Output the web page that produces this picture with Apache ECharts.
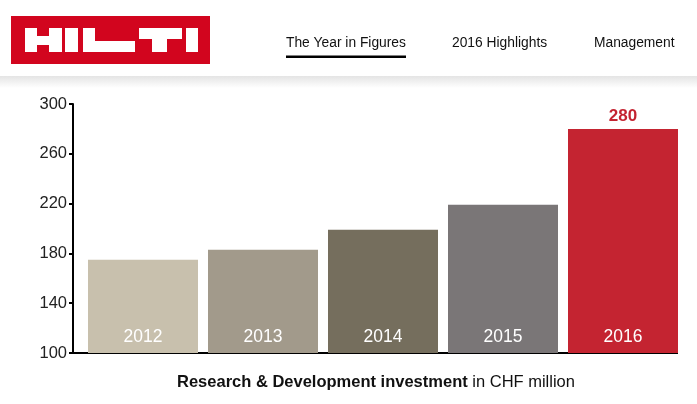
<!DOCTYPE html>
<html>
<head>
<meta charset="utf-8">
<script src="https://cdn.jsdelivr.net/npm/echarts@6/dist/echarts.min.js"></script>
<style>
  html, body { margin: 0; padding: 0; background: #fff; }
  #chart { width: 697px; height: 404px; }
</style>
</head>
<body>
<div id="chart"></div>
<script>
// 数据
const years = ['2012', '2013', '2014', '2015', '2016'];
const rdValues = [175, 183, 199, 219, 280];
const barColors = ['#c8c0ad', '#a29a8b', '#756e5d', '#7a7677', '#c42431'];
const yTicks = [100, 140, 180, 220, 260, 300];
const navItems = ['The Year in Figures', '2016 Highlights', 'Management'];

const FONT = '"Liberation Sans", Arial, Helvetica, sans-serif';
const HILTI_RED = '#d2051e';

const chart = echarts.init(document.getElementById('chart'), null, { renderer: 'canvas' });

// 柱子数据: 每根柱子自己的颜色
const barData = rdValues.map((v, i) => ({
  value: v,
  itemStyle: { color: barColors[i] }
}));

// 数值标签: 只有最后一年显示
const valueLabelData = rdValues.map((v, i) => ({
  value: v,
  label: { show: i === rdValues.length - 1 }
}));

// 页眉: logo 方块
const logoBlocks = [
  // H
  [25, 28, 12, 24], [49, 28, 13, 24], [37, 36, 12, 9],
  // I
  [65, 28, 13, 24],
  // L
  [83, 28, 12, 24], [95, 41, 40, 11],
  // T
  [139, 28, 43, 11], [152, 39, 15, 13],
  // I
  [186, 28, 12, 24]
];

const navX = [286, 452, 594];

const graphics = [
  {
    type: 'rect', left: 0, top: 76, silent: true,
    shape: { width: 697, height: 12 },
    style: {
      fill: new echarts.graphic.LinearGradient(0, 0, 0, 1, [
        { offset: 0, color: '#e4e4e4' },
        { offset: 1, color: '#ffffff' }
      ])
    }
  },
  { type: 'rect', shape: { x: 11, y: 16, width: 199, height: 48 }, style: { fill: HILTI_RED } }
];
logoBlocks.forEach(b => {
  graphics.push({ type: 'rect', shape: { x: b[0], y: b[1], width: b[2], height: b[3] }, style: { fill: '#fff' } });
});
navItems.forEach((t, i) => {
  graphics.push({
    type: 'text', x: navX[i], y: 43,
    style: { text: t, fill: '#111', font: '13.8px ' + FONT, textVerticalAlign: 'middle' }
  });
});
// 当前页的下划线
graphics.push({ type: 'rect', shape: { x: 286, y: 55.5, width: 120, height: 2.5 }, style: { fill: '#000' } });
// x 轴线
graphics.push({ type: 'line', shape: { x1: 72, y1: 353, x2: 678, y2: 353 }, style: { stroke: '#000', lineWidth: 2 } });
// 说明文字
graphics.push({
  type: 'text', x: 376, y: 382,
  style: {
    text: '{b|Research & Development investment}{r| in CHF million}',
    textAlign: 'center', textVerticalAlign: 'middle',
    rich: {
      b: { fontWeight: 'bold', fontSize: 16.5, fontFamily: FONT, fill: '#111', color: '#111' },
      r: { fontSize: 16.5, fontFamily: FONT, fill: '#111', color: '#111' }
    }
  }
});

const option = {
  animation: false,
  backgroundColor: '#fff',
  grid: { left: 83, right: 14, top: 104, bottom: 51, containLabel: false },
  xAxis: {
    type: 'category',
    data: years,
    axisLine: { show: false },
    axisTick: { show: false },
    axisLabel: { show: false }
  },
  yAxis: {
    type: 'value',
    min: yTicks[0],
    max: yTicks[yTicks.length - 1],
    interval: yTicks[1] - yTicks[0],
    offset: 10,
    splitLine: { show: false },
    axisLine: { show: true, lineStyle: { color: '#000', width: 2 } },
    axisTick: { show: true, length: 4, lineStyle: { color: '#000', width: 2 } },
    axisLabel: { color: '#222', fontSize: 16.5, fontFamily: FONT, margin: 6 }
  },
  series: [
    {
      type: 'bar',
      barWidth: 110,
      data: barData,
      label: {
        show: true,
        position: 'insideBottom',
        distance: 7,
        formatter: p => years[p.dataIndex],
        color: '#fff',
        fontSize: 17.5,
        fontFamily: FONT
      }
    },
    {
      type: 'bar',
      barWidth: 110,
      barGap: '-100%',
      data: valueLabelData,
      itemStyle: { color: 'transparent' },
      silent: true,
      label: {
        position: 'top',
        distance: 4,
        formatter: '{c}',
        color: '#c42431',
        fontSize: 17,
        fontWeight: 'bold',
        fontFamily: FONT
      }
    }
  ],
  graphic: graphics
};

chart.setOption(option);
</script>
</body>
</html>
